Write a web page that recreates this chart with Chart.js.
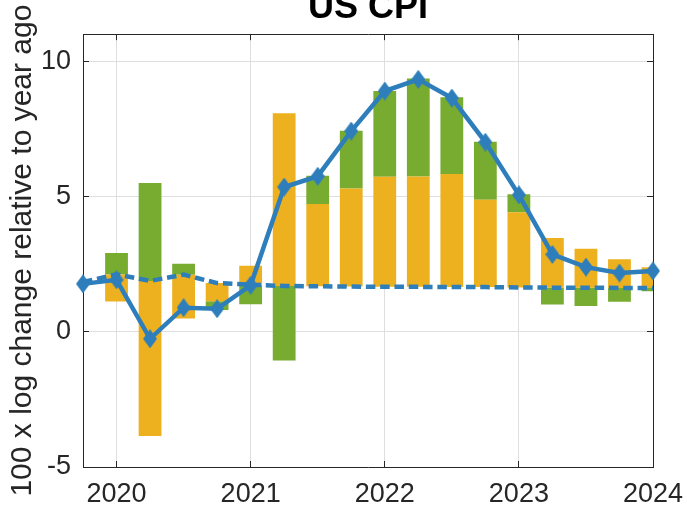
<!DOCTYPE html>
<html>
<head>
<meta charset="utf-8">
<title>US CPI</title>
<script src="https://cdn.jsdelivr.net/npm/chart.js@4.4.1/dist/chart.umd.min.js"></script>
<style>
  html, body { margin: 0; padding: 0; background: #fff; }
  #chart { display: block; }
</style>
</head>
<body>
<canvas id="chart" width="687" height="507"></canvas>
<script>
// quarters as decimal years, 2019Q4 .. 2024Q1
const quarters = [2019.75, 2020, 2020.25, 2020.5, 2020.75, 2021, 2021.25, 2021.5, 2021.75,
  2022, 2022.25, 2022.5, 2022.75, 2023, 2023.25, 2023.5, 2023.75, 2024];
const cpi = [1.77, 1.92, -0.26, 0.89, 0.85, 1.72, 5.35, 5.75, 7.42,
  8.9, 9.33, 8.64, 7.01, 5.06, 2.86, 2.39, 2.17, 2.25];
const trend = [1.84, 2.12, 1.88, 2.11, 1.8, 1.74, 1.69, 1.68, 1.67,
  1.66, 1.66, 1.65, 1.65, 1.64, 1.63, 1.63, 1.62, 1.62];

// bar contributions relative to the trend line, 2020Q1 .. 2024Q1
const barQuarters = quarters.slice(1);
const yellowPart = [-1.0, -5.73, -1.62, -0.67, 0.7, 6.39, 3.04, 3.63, 4.07,
  4.08, 4.18, 3.23, 2.78, 1.84, 1.44, 1.06, 0.76];
const greenPart = [0.79, 3.62, 0.4, -0.33, -0.72, -2.75, 1.05, 2.13, 3.17,
  3.62, 2.84, 2.14, 0.66, -0.62, -0.68, -0.51, -0.12];

const xTicks = [2020, 2021, 2022, 2023, 2024];
const yTicks = [-5, 0, 5, 10];

const ink = "#262626";
const gridColor = "#dfdfdf";
const blue = "#2e7ebc";
const family = "'Liberation Sans', Arial, Helvetica, sans-serif";

// stack positives upward and negatives downward from the trend
const yellowBars = [];
const greenBars = [];
barQuarters.forEach((q, i) => {
  const base = trend[i + 1];
  let up = base;
  let down = base;
  const y = yellowPart[i];
  const g = greenPart[i];
  if (y >= 0) {
    yellowBars.push({ x: q, y: [up, up + y] });
    up += y;
  } else {
    yellowBars.push({ x: q, y: [down + y, down] });
    down += y;
  }
  if (g >= 0) {
    greenBars.push({ x: q, y: [up, up + g] });
  } else {
    greenBars.push({ x: q, y: [down + g, down] });
  }
});

// tall diamond marker like matlab's 'd'
function diamond(w, h, color) {
  const c = document.createElement("canvas");
  c.width = w;
  c.height = h;
  const g = c.getContext("2d");
  g.fillStyle = color;
  g.beginPath();
  g.moveTo(w / 2, 0);
  g.lineTo(w, h / 2);
  g.lineTo(w / 2, h);
  g.lineTo(0, h / 2);
  g.closePath();
  g.fill();
  return c;
}

const setTicks = (list) => (scale) => {
  scale.ticks = list.map((v) => ({ value: v }));
};

const edgeAxis = (position, min, max, list) => ({
  type: "linear",
  position: position,
  min: min,
  max: max,
  offset: false,
  afterBuildTicks: setTicks(list),
  ticks: { display: false },
  grid: { drawOnChartArea: false, offset: false, tickLength: -6, tickColor: ink },
  border: { color: ink, width: 1 },
  afterFit: (s) => {
    if (s.isHorizontal()) s.height = 0;
    else s.width = 0;
    s.paddingLeft = s.paddingRight = s.paddingTop = s.paddingBottom = 0;
  },
});

new Chart(document.getElementById("chart"), {
  type: "bar",
  data: {
    datasets: [
      {
        type: "line",
        label: "CPI",
        data: quarters.map((q, i) => ({ x: q, y: cpi[i] })),
        borderColor: blue,
        backgroundColor: blue,
        borderWidth: 4.5,
        pointStyle: diamond(14, 19, blue),
        pointRadius: 8,
        tension: 0,
        clip: false,
        order: 0,
      },
      {
        type: "line",
        label: "Trend",
        data: quarters.map((q, i) => ({ x: q, y: trend[i] })),
        borderColor: blue,
        borderWidth: 4.5,
        borderDash: [9.5, 4.8],
        pointRadius: 0,
        tension: 0,
        order: 1,
      },
      {
        label: "Yellow",
        data: yellowBars,
        backgroundColor: "#edb120",
        grouped: false,
        barPercentage: 0.68,
        categoryPercentage: 1,
        order: 2,
      },
      {
        label: "Green",
        data: greenBars,
        backgroundColor: "#77ac30",
        grouped: false,
        barPercentage: 0.68,
        categoryPercentage: 1,
        order: 3,
      },
    ],
  },
  options: {
    responsive: false,
    animation: false,
    events: [],
    layout: { padding: { left: 0, right: 34, top: 0, bottom: 0 } },
    plugins: {
      legend: { display: false },
      tooltip: { enabled: false },
      title: {
        display: true,
        text: "US CPI",
        fullSize: false,
        color: "#000",
        font: { family: family, size: 36, weight: "bold" },
        padding: { top: -16, bottom: 5 },
      },
    },
    scales: {
      x: {
        type: "linear",
        position: "bottom",
        min: quarters[0],
        max: quarters[quarters.length - 1],
        offset: false,
        afterBuildTicks: setTicks(xTicks),
        ticks: {
          callback: (v) => String(v),
          color: ink,
          font: { family: family, size: 27 },
          padding: 17,
          maxRotation: 0,
          autoSkip: false,
        },
        grid: { color: gridColor, offset: false, lineWidth: 1, tickLength: -6, tickColor: ink },
        border: { color: ink, width: 1 },
        afterFit: (s) => {
          s.height = 40;
          s.paddingLeft = 0;
          s.paddingRight = 0;
        },
      },
      x2: edgeAxis("top", quarters[0], quarters[quarters.length - 1], xTicks),
      y: {
        type: "linear",
        position: "left",
        min: -5,
        max: 11,
        afterBuildTicks: setTicks(yTicks),
        ticks: {
          color: ink,
          font: { family: family, size: 27 },
          padding: 18,
        },
        grid: { color: gridColor, lineWidth: 1, tickLength: -6, tickColor: ink },
        border: { color: ink, width: 1 },
        title: {
          display: true,
          text: "100 x log change relative to year ago",
          color: ink,
          font: { family: family, size: 30 },
          padding: { top: 5, bottom: 0 },
        },
        afterFit: (s) => {
          s.width = 83;
        },
      },
      y2: edgeAxis("right", -5, 11, yTicks),
    },
  },
});
</script>
</body>
</html>
